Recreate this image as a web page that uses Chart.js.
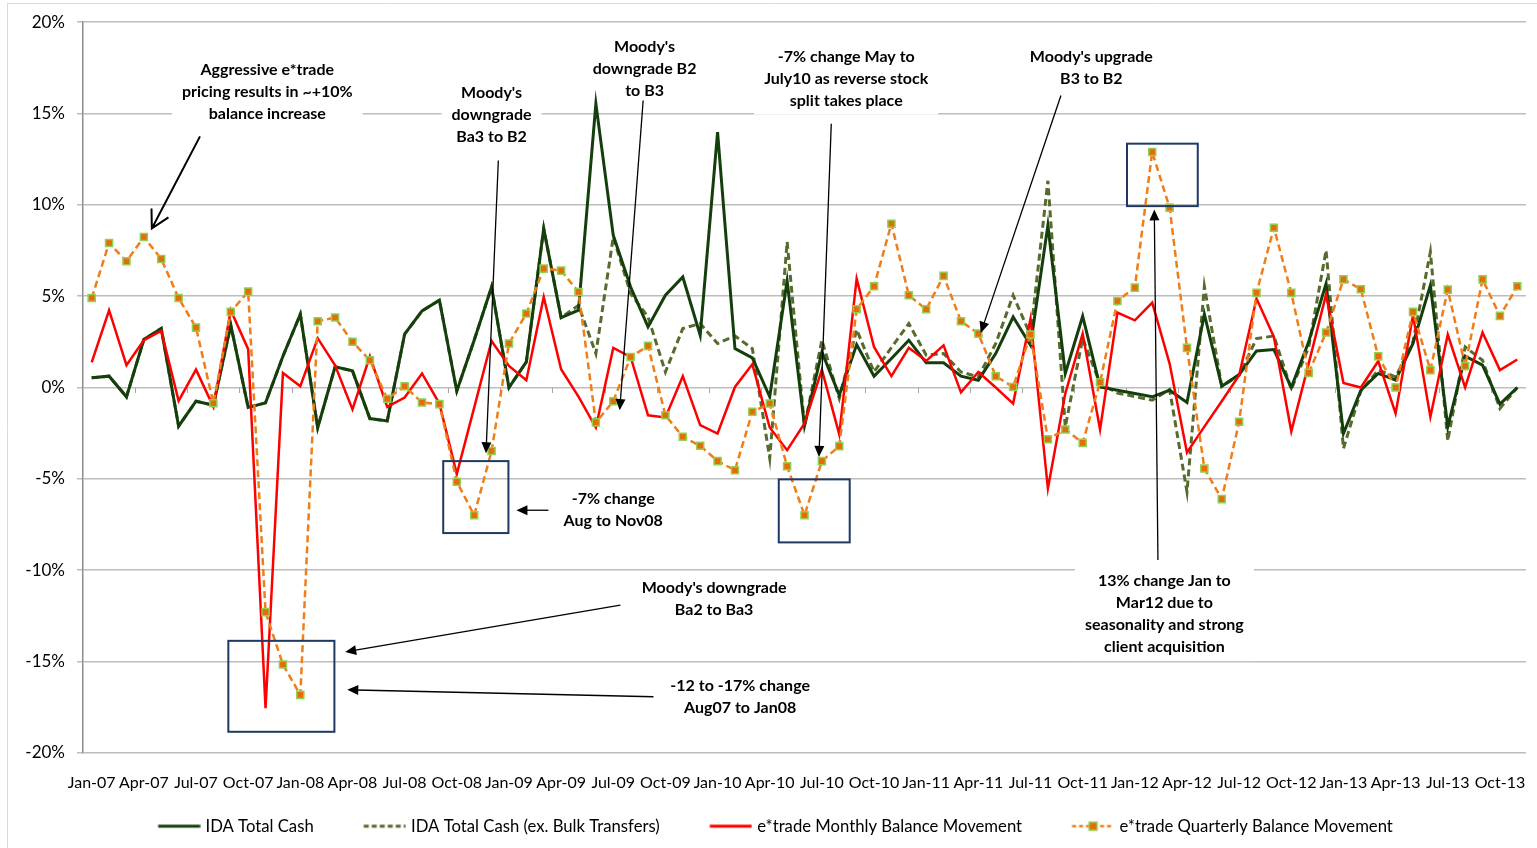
<!DOCTYPE html>
<html>
<head>
<meta charset="utf-8">
<script src="https://cdn.jsdelivr.net/npm/chart.js@4.4.1/dist/chart.umd.min.js"></script>
<style>
html, body { margin: 0; padding: 0; background: #fff; }
</style>
</head>
<body>
<canvas id="chart" width="1537" height="848"></canvas>
<script>
// month labels Jan-07 .. Nov-13
const monthNames = ['Jan','Feb','Mar','Apr','May','Jun','Jul','Aug','Sep','Oct','Nov','Dec'];
const months = [];
for (let yr = 7; yr <= 13; yr++) {
    for (let m = 0; m < 12; m++) {
        if (yr === 13 && m > 10) break;
        months.push(monthNames[m] + '-' + String(yr).padStart(2, '0'));
    }
}

const idaTotalCash = [
    0.53, 0.62, -0.51, 2.63, 3.23, -2.12, -0.75, -0.97, 3.41, -1.09,
    -0.84, 1.71, 4.01, -2.2, 1.13, 0.91, -1.70, -1.83, 2.92, 4.19,
    4.78, -0.19, 2.59, 5.50, 0.0, 1.40, 8.70, 3.83, 4.23, 15.54,
    8.33, 5.50, 3.32, 5.05, 6.05, 2.86, 13.98, 2.13, 1.62, -0.51,
    5.83, -2.1, 1.95, -0.42, 2.35, 0.62, 1.59, 2.59, 1.35, 1.35,
    0.62, 0.40, 1.86, 3.86, 2.31, 8.88, 0.77, 3.90, 0.03, -0.15,
    -0.33, -0.51, -0.15, -0.82, 4.01, 0.07, 0.71, 2.00, 2.08, 0.0,
    2.5, 5.69, -2.52, -0.15, 0.77, 0.40, 2.41, 5.60, -2.15, 1.71,
    1.22, -0.91, 0.0
];
const idaExBulk = [
    0.53, 0.62, -0.51, 2.63, 3.23, -2.12, -0.75, -0.97, 3.41, -1.09,
    -0.84, 1.71, 4.01, -2.2, 1.13, 0.91, -1.70, -1.83, 2.92, 4.19,
    4.78, -0.19, 2.59, 5.50, 0.0, 1.40, 8.70, 3.83, 4.5, 1.86,
    8.24, 5.14, 3.86, 0.85, 3.23, 3.50, 2.41, 2.82, 2.13, -3.88,
    7.97, -2.1, 2.59, -0.60, 3.17, 0.85, 2.19, 3.50, 1.77, 1.86,
    0.85, 0.58, 2.41, 5.05, 2.86, 11.32, -2.15, 2.68, 0.22, -0.3,
    -0.5, -0.69, -0.11, -5.71, 5.54, 0.07, 0.67, 2.68, 2.82, -0.1,
    2.2, 7.51, -3.34, -0.2, 0.95, 0.58, 2.5, 7.42, -2.92, 2.22,
    1.49, -1.15, 0.0
];
const etradeMonthly = [
    1.37, 4.23, 1.22, 2.59, 3.10, -0.73, 0.98, -1.06, 4.23, 2.10,
    -17.56, 0.80, 0.07, 2.7, 1.22, -1.20, 1.71, -1.06, -0.55, 0.77,
    -0.88, -4.74, -1.1, 2.55, 1.18, 0.40, 4.96, 1.0, -0.5, -2.19,
    2.17, 1.67, -1.52, -1.64, 0.62, -2.06, -2.52, 0.03, 1.27, -2.19,
    -3.43, -1.97, 0.98, -2.57, 5.96, 2.22, 0.62, 2.17, 1.46, 2.31,
    -0.27, 0.85, 0.0, -0.88, 3.77, -5.53, -0.33, 2.95, -2.30, 4.10,
    3.68, 4.65, 1.31, -3.56, -2.14, -0.75, 0.67, 4.87, 2.77, -2.4,
    1.31, 5.09, 0.25, 0.0, 1.44, -1.42, 3.95, -1.61, 2.90, 0.0,
    3.01, 0.95, 1.53
];
const etradeQuarterly = [
    4.9, 7.91, 6.91, 8.24, 7.04, 4.9, 3.28, -0.86, 4.14, 5.25,
    -12.3, -15.17, -16.83, 3.63, 3.83, 2.5, 1.49, -0.62, 0.07, -0.82,
    -0.91, -5.16, -6.99, -3.48, 2.41, 4.05, 6.51, 6.4, 5.23, -1.91,
    -0.75, 1.67, 2.28, -1.52, -2.70, -3.19, -4.03, -4.53, -1.33, -0.88,
    -4.31, -6.99, -4.03, -3.21, 4.28, 5.54, 8.97, 5.05, 4.28, 6.11,
    3.63, 2.95, 0.62, 0.03, 2.9, -2.83, -2.30, -3.03, 0.29, 4.74,
    5.47, 12.89, 9.85, 2.17, -4.43, -6.11, -1.88, 5.18, 8.75, 5.18,
    0.80, 3.01, 5.92, 5.38, 1.71, 0.0, 4.14, 0.95, 5.36, 1.18,
    5.92, 3.92, 5.54
];

// annotations, placed in data units (category index, percent)
const notes = [
    { lines: ['Aggressive e*trade', 'pricing results in ~+10%', 'balance increase'], at: [10.1, 17.41] },
    { lines: ["Moody's", 'downgrade', 'Ba3 to B2'], at: [23.0, 16.15] },
    { lines: ["Moody's", 'downgrade B2', 'to B3'], at: [31.8, 18.67] },
    { lines: ['-7% change May to', 'July10 as reverse stock', 'split takes place'], at: [43.4, 18.12] },
    { lines: ["Moody's upgrade", 'B3 to B2'], at: [57.5, 18.12] },
    { lines: ['-7% change', 'Aug to Nov08'], at: [30.0, -6.11] },
    { lines: ["Moody's downgrade", 'Ba2 to Ba3'], at: [35.8, -10.97] },
    { lines: ['-12 to -17% change', 'Aug07 to Jan08'], at: [37.3, -16.34] },
    { lines: ['13% change Jan to', 'Mar12 due to', 'seasonality and strong', 'client acquisition'], at: [61.7, -10.6] }
];
const arrows = [
    { from: [6.23, 13.75], to: [3.46, 8.71], open: true },
    { from: [23.39, 12.43], to: [22.68, -3.6] },
    { from: [31.72, 15.71], to: [30.37, -1.24] },
    { from: [42.54, 14.44], to: [41.83, -3.8] },
    { from: [55.75, 15.99], to: [51.14, 2.99] },
    { from: [26.27, -6.72], to: [24.43, -6.72] },
    { from: [30.41, -11.91], to: [14.58, -14.48] },
    { from: [32.31, -16.93], to: [14.70, -16.55] },
    { from: [61.33, -9.45], to: [61.12, 9.75] }
];
const boxes = [
    [7.86, -13.87, 13.96, -18.85],
    [20.22, -4.03, 23.97, -7.97],
    [39.52, -5.03, 43.6, -8.48],
    [59.55, 13.35, 63.62, 9.93]
];

// legend sample: transparent lead-in, then a 42px line sample
function legendIcon(color, width, dash, marker) {
    const c = document.createElement('canvas');
    c.width = 71;
    c.height = 12;
    const g = c.getContext('2d');
    g.strokeStyle = color;
    g.lineWidth = width;
    g.setLineDash(dash);
    g.beginPath();
    g.moveTo(28.5, 6);
    g.lineTo(70.5, 6);
    g.stroke();
    if (marker) {
        g.setLineDash([]);
        g.fillStyle = '#e46c0a';
        g.fillRect(45.5, 2, 8, 8);
        g.strokeStyle = '#92d050';
        g.lineWidth = 1.5;
        g.strokeRect(45.5, 2, 8, 8);
    }
    return c;
}
const icons = [
    legendIcon('#143f0d', 3, [], false),
    legendIcon('#566b2c', 3, [5, 3], false),
    legendIcon('#ff0000', 3, [], false),
    legendIcon('#f07d16', 2.5, [4, 3], true)
];

function drawArrow(ctx, x1, y1, x2, y2, open) {
    const a = Math.atan2(y2 - y1, x2 - x1);
    if (open) {
        ctx.lineWidth = 2;
        ctx.beginPath();
        ctx.moveTo(x1, y1);
        ctx.lineTo(x2, y2);
        ctx.moveTo(x2 - 20 * Math.cos(a - 0.5), y2 - 20 * Math.sin(a - 0.5));
        ctx.lineTo(x2, y2);
        ctx.lineTo(x2 - 20 * Math.cos(a + 0.5), y2 - 20 * Math.sin(a + 0.5));
        ctx.stroke();
        return;
    }
    ctx.lineWidth = 1.3;
    ctx.beginPath();
    ctx.moveTo(x1, y1);
    ctx.lineTo(x2 - 9 * Math.cos(a), y2 - 9 * Math.sin(a));
    ctx.stroke();
    ctx.beginPath();
    ctx.moveTo(x2, y2);
    ctx.lineTo(x2 - 11 * Math.cos(a) + 5 * Math.sin(a), y2 - 11 * Math.sin(a) - 5 * Math.cos(a));
    ctx.lineTo(x2 - 11 * Math.cos(a) - 5 * Math.sin(a), y2 - 11 * Math.sin(a) + 5 * Math.cos(a));
    ctx.closePath();
    ctx.fill();
}

const notesPlugin = {
    id: 'notes',
    beforeDraw(chart) {
        const { ctx, width, height } = chart;
        ctx.save();
        ctx.fillStyle = '#fff';
        ctx.fillRect(0, 0, width, height);
        ctx.strokeStyle = '#d9d9d9';
        ctx.lineWidth = 1;
        ctx.beginPath();
        ctx.moveTo(7.5, height);
        ctx.lineTo(7.5, 3.5);
        ctx.lineTo(width, 3.5);
        ctx.stroke();
        ctx.restore();
    },
    beforeDatasetsDraw(chart) {
        const { ctx, scales: { x, y } } = chart;
        ctx.save();
        // small tick marks on the 0% axis
        ctx.strokeStyle = '#a6a6a6';
        ctx.lineWidth = 1;
        const y0 = Math.round(y.getPixelForValue(0));
        for (let i = 2.5; i < months.length; i += 3) {
            const px = Math.round(x.getPixelForValue(i)) + 0.5;
            ctx.beginPath();
            ctx.moveTo(px, y0);
            ctx.lineTo(px, y0 + 5);
            ctx.stroke();
        }
        // text blocks on white
        ctx.font = 'bold 16px Lato';
        ctx.textAlign = 'center';
        ctx.textBaseline = 'middle';
        notes.forEach(n => {
            const cx = x.getPixelForValue(n.at[0]);
            const top = y.getPixelForValue(n.at[1]);
            let w = 0;
            n.lines.forEach(l => { w = Math.max(w, ctx.measureText(l).width); });
            const bottom = top + 22 * (n.lines.length - 1);
            ctx.fillStyle = '#fff';
            ctx.fillRect(cx - w / 2 - 10, top - 13, w + 20, bottom - top + 27);
            ctx.fillStyle = '#000';
            n.lines.forEach((l, k) => ctx.fillText(l, cx, top + 22 * k));
        });
        ctx.restore();
    },
    afterDatasetsDraw(chart) {
        const { ctx, scales: { x, y } } = chart;
        ctx.save();
        ctx.strokeStyle = '#000';
        ctx.fillStyle = '#000';
        arrows.forEach(a => {
            drawArrow(ctx,
                x.getPixelForValue(a.from[0]), y.getPixelForValue(a.from[1]),
                x.getPixelForValue(a.to[0]), y.getPixelForValue(a.to[1]), a.open);
        });
        ctx.strokeStyle = '#1f3864';
        ctx.lineWidth = 2;
        boxes.forEach(b => {
            const x1 = x.getPixelForValue(b[0]), y1 = y.getPixelForValue(b[1]);
            const x2 = x.getPixelForValue(b[2]), y2 = y.getPixelForValue(b[3]);
            ctx.strokeRect(x1, y1, x2 - x1, y2 - y1);
        });
        ctx.restore();
    }
};

window.addEventListener('load', function() {
    Chart.defaults.font.family = 'Lato';
    Chart.defaults.color = '#000';
    const config = {
        type: 'line',
        data: {
            labels: months,
            datasets: [
                {
                    label: 'IDA Total Cash',
                    data: idaTotalCash,
                    borderColor: '#143f0d',
                    borderWidth: 3,
                    pointRadius: 0,
                    tension: 0,
                    order: 3
                },
                {
                    label: 'IDA Total Cash (ex. Bulk Transfers)',
                    data: idaExBulk,
                    borderColor: '#566b2c',
                    borderWidth: 3,
                    borderDash: [7, 4],
                    pointRadius: 0,
                    tension: 0,
                    order: 4
                },
                {
                    label: 'e*trade Monthly Balance Movement',
                    data: etradeMonthly,
                    borderColor: '#ff0000',
                    borderWidth: 2.5,
                    pointRadius: 0,
                    tension: 0,
                    order: 2
                },
                {
                    label: 'e*trade Quarterly Balance Movement',
                    data: etradeQuarterly,
                    borderColor: '#f07d16',
                    borderWidth: 2.5,
                    borderDash: [7, 4],
                    pointStyle: 'rect',
                    pointRadius: 5,
                    pointBackgroundColor: '#e46c0a',
                    pointBorderColor: '#92d050',
                    pointBorderWidth: 1.5,
                    tension: 0,
                    order: 1
                }
            ]
        },
        options: {
            responsive: false,
            animation: false,
            layout: {
                padding: { top: 21, right: 11, bottom: 3.5, left: 0 }
            },
            plugins: {
                legend: {
                    position: 'bottom',
                    labels: {
                        usePointStyle: true,
                        pointStyleWidth: 64,
                        boxHeight: 12,
                        padding: 25,
                        font: { size: 16.7 },
                        color: '#000',
                        generateLabels: function(chart) {
                            return chart.data.datasets.map((ds, i) => ({
                                text: ds.label,
                                pointStyle: icons[i],
                                datasetIndex: i,
                                hidden: false,
                                lineWidth: 0,
                                strokeStyle: 'rgba(0,0,0,0)',
                                fillStyle: 'rgba(0,0,0,0)',
                                fontColor: '#000'
                            }));
                        }
                    }
                },
                tooltip: { enabled: false }
            },
            scales: {
                x: {
                    offset: true,
                    grid: { display: false, drawTicks: false },
                    border: { display: false },
                    ticks: {
                        autoSkip: false,
                        maxRotation: 0,
                        minRotation: 0,
                        padding: 20,
                        font: { size: 16 },
                        color: '#000',
                        callback: function(v, i) {
                            return i % 3 === 0 ? months[i] : '';
                        }
                    },
                    afterFit: function(scale) {
                        scale.height = 40;
                        scale.paddingLeft = 0;
                        scale.paddingRight = 0;
                    }
                },
                y: {
                    min: -20,
                    max: 20,
                    grid: { color: '#bdbdbd', lineWidth: 1.5, tickLength: 6 },
                    border: { color: '#8c8c8c', width: 1.5 },
                    ticks: {
                        stepSize: 5,
                        padding: 12,
                        font: { size: 17 },
                        color: '#000',
                        callback: function(v) { return v + '%'; }
                    },
                    afterFit: function(scale) {
                        scale.width = 83;
                    }
                }
            }
        },
        plugins: [notesPlugin]
    };
    new Chart(document.getElementById('chart'), config);
});
</script>
</body>
</html>
